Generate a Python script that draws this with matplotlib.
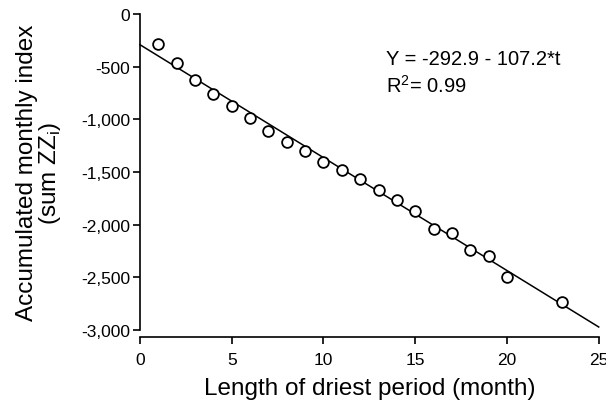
import numpy as np
import matplotlib
matplotlib.use("Agg")
import matplotlib.pyplot as plt

plt.rcParams["font.family"] = ["Liberation Sans", "DejaVu Sans"]

# values
months = [1, 2, 3, 4, 5, 6, 7, 8, 9, 10, 11, 12, 13, 14, 15, 16, 17, 18, 19, 20, 23]
index_sum = [-285, -465, -627, -760, -873, -987, -1111, -1215, -1300, -1405, -1481,
             -1566, -1671, -1770, -1870, -2041, -2079, -2240, -2297, -2497, -2734]
intercept = -292.9
slope = -107.2
x_ticks = [0, 5, 10, 15, 20, 25]
y_ticks = [0, -500, -1000, -1500, -2000, -2500, -3000]
y_ticklabels = ["0", "-500", "-1,000", "-1,500", "-2,000", "-2,500", "-3,000"]

fig = plt.figure(figsize=(6.06, 4.02), dpi=100)
ax = fig.add_axes([0.231, 0.177, 0.757, 0.786])

t = np.array([0.0, 25.0])
ax.plot(t, intercept + slope * t, color="black", linewidth=1.1, clip_on=False)
ax.scatter(months, index_sum, s=60, facecolors="white", edgecolors="black",
           linewidths=1.3, zorder=3, clip_on=False)

ax.set_xlim(0, 25)
ax.set_ylim(-3000, 0)
ax.set_xticks(x_ticks)
ax.set_yticks(y_ticks)
ax.set_yticklabels(y_ticklabels)

for side in ("top", "right"):
    ax.spines[side].set_visible(False)
ax.spines["bottom"].set_position(("outward", 5))
ax.spines["left"].set_linewidth(1.2)
ax.spines["bottom"].set_linewidth(1.2)
ax.tick_params(direction="out", length=5, width=1.2, labelsize=12.5, pad=2)
ax.tick_params(axis="x", pad=6)

ax.set_xlabel("Length of driest period (month)", fontsize=17.5, labelpad=7)
ax.set_ylabel("Accumulated monthly index\n(sum ZZ$_\\mathregular{i}$)", fontsize=17.5,
              labelpad=13, linespacing=0.95)

ax.text(0.537, 0.859, "Y = -292.9 - 107.2*t", transform=ax.transAxes, fontsize=14.5,
        ha="left", va="center")
ax.text(0.537, 0.774, "R$^\\mathregular{2}$= 0.99", transform=ax.transAxes, fontsize=14.5,
        ha="left", va="center")

fig.savefig("out.png", dpi=100)
